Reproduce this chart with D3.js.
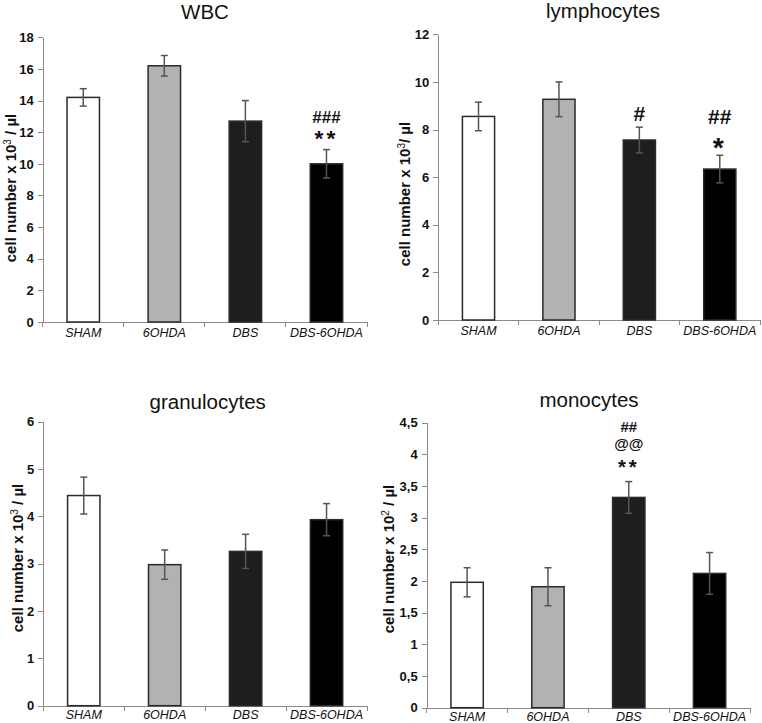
<!DOCTYPE html>
<html>
<head>
<meta charset="utf-8">
<style>
  body { margin: 0; background: #fff; }
  svg text { font-family: "Liberation Sans", Arial, sans-serif; fill: #111; }
  .axis path, .axis line { stroke: #8a8a8a; stroke-width: 1px; shape-rendering: crispEdges; }
  .axis text { font-size: 13px; font-weight: bold; }
  .xaxis text { font-size: 12.5px; font-weight: normal; font-style: italic; }
  .title { font-size: 20.5px; text-anchor: middle; }
  .ylabel { font-size: 15px; font-weight: bold; text-anchor: middle; }
  .bar { stroke: #2a2a2a; stroke-width: 1.5px; }
  .err { stroke: #555; stroke-width: 1.5px; }
  .sig { font-weight: bold; text-anchor: middle; }
</style>
</head>
<body>
<script src="https://d3js.org/d3.v7.min.js"></script>
<script>
  // groups, same in every panel
  var groups = ["SHAM", "6OHDA", "DBS", "DBS-6OHDA"];
  var groupFill = ["#ffffff", "#b2b2b2", "#1e1e1e", "#000000"];

  // WBC
  var wbcMean = [14.2, 16.2, 12.7, 10.0];
  var wbcErr  = [0.55, 0.65, 1.3, 0.9];
  var wbcTicks = [0, 2, 4, 6, 8, 10, 12, 14, 16, 18];
  var wbcSig = [[], [], [], ["**", "###"]];      // bottom to top

  // lymphocytes
  var lymMean = [8.55, 9.27, 7.56, 6.34];
  var lymErr  = [0.6, 0.73, 0.54, 0.58];
  var lymTicks = [0, 2, 4, 6, 8, 10, 12];
  var lymSig = [[], [], ["#"], ["*", "##"]];

  // granulocytes
  var graMean = [4.44, 2.98, 3.26, 3.93];
  var graErr  = [0.39, 0.31, 0.36, 0.34];
  var graTicks = [0, 1, 2, 3, 4, 5, 6];
  var graSig = [[], [], [], []];

  // monocytes
  var monMean = [1.98, 1.91, 3.32, 2.12];
  var monErr  = [0.23, 0.3, 0.25, 0.33];
  var monTicks = [0, 0.5, 1, 1.5, 2, 2.5, 3, 3.5, 4, 4.5];
  var monSig = [[], [], ["**", "@@", "##"], []];

  var commaFmt = function (d) { return String(d).replace(".", ","); };

  var svg = d3.select("body").append("svg")
      .attr("width", 762)
      .attr("height", 723);

  var panels = [
    { title: "WBC", mean: wbcMean, err: wbcErr, ticks: wbcTicks, sig: wbcSig, fmt: String,
      ylab: ["cell number x 10", "3", " / µl"],
      x0: 42.7, x1: 367, yTop: 37.3, y0: 322, tx: 205, ty: 19, lx: 11, ly: 188,
      catPad: 6, sigSize: 17, sigGap: 16, sigStep: 17 },
    { title: "lymphocytes", mean: lymMean, err: lymErr, ticks: lymTicks, sig: lymSig, fmt: String,
      ylab: ["cell number x 10", "3", "/ µl"],
      x0: 438.3, x1: 760, yTop: 34.3, y0: 320, tx: 603, ty: 18, lx: 405, ly: 194,
      catPad: 6, sigSize: 21, sigGap: 14, sigStep: 25 },
    { title: "granulocytes", mean: graMean, err: graErr, ticks: graTicks, sig: graSig, fmt: String,
      ylab: ["cell number x 10", "3", " / µl"],
      x0: 43.3, x1: 367, yTop: 421.7, y0: 705.7, tx: 207.7, ty: 409, lx: 18, ly: 558,
      catPad: 4, sigSize: 17, sigGap: 17, sigStep: 17 },
    { title: "monocytes", mean: monMean, err: monErr, ticks: monTicks, sig: monSig, fmt: commaFmt,
      ylab: ["cell number x 10", "2", " / µl"],
      x0: 426.7, x1: 750, yTop: 422.7, y0: 707.7, tx: 589, ty: 406.7, lx: 389, ly: 559,
      catPad: 4, sigSize: 15, sigGap: 19, sigStep: 18 }
  ];

  panels.forEach(drawPanel);

  function drawPanel(p) {
    var g = svg.append("g");

    var xScale = d3.scaleBand().domain(groups).range([p.x0, p.x1]);
    var yScale = d3.scaleLinear()
        .domain([0, d3.max(p.ticks)])
        .range([p.y0, p.yTop]);
    var bw = xScale.bandwidth();

    // y axis
    g.append("g")
        .attr("class", "axis")
        .attr("transform", "translate(" + p.x0 + ",0)")
        .call(d3.axisLeft(yScale).tickValues(p.ticks).tickFormat(p.fmt)
              .tickSize(5).tickSizeOuter(0).tickPadding(4));

    // x axis, labels at band centres, ticks at band edges
    var xa = g.append("g")
        .attr("class", "axis xaxis")
        .attr("transform", "translate(0," + p.y0 + ")")
        .call(d3.axisBottom(xScale).tickSize(0).tickSizeOuter(0).tickPadding(p.catPad));
    xa.selectAll(".edge")
        .data(d3.range(groups.length + 1))
      .enter().append("line")
        .attr("class", "edge")
        .attr("x1", function (i) { return p.x0 + i * bw; })
        .attr("x2", function (i) { return p.x0 + i * bw; })
        .attr("y1", 0)
        .attr("y2", 5);

    // bars
    g.selectAll(".bar")
        .data(groups)
      .enter().append("rect")
        .attr("class", "bar")
        .attr("x", function (d) { return xScale(d) + bw * 0.3; })
        .attr("width", bw * 0.4)
        .attr("y", function (d, i) { return yScale(p.mean[i]); })
        .attr("height", function (d, i) { return yScale(0) - yScale(p.mean[i]); })
        .style("fill", function (d, i) { return groupFill[i]; });

    // error bars
    var eb = g.selectAll(".eb")
        .data(groups)
      .enter().append("g")
        .attr("class", "err");
    eb.append("line")
        .attr("x1", function (d) { return xScale(d) + bw / 2; })
        .attr("x2", function (d) { return xScale(d) + bw / 2; })
        .attr("y1", function (d, i) { return yScale(p.mean[i] - p.err[i]); })
        .attr("y2", function (d, i) { return yScale(p.mean[i] + p.err[i]); });
    [-1, 1].forEach(function (s) {
      eb.append("line")
          .attr("x1", function (d) { return xScale(d) + bw / 2 - 3.5; })
          .attr("x2", function (d) { return xScale(d) + bw / 2 + 3.5; })
          .attr("y1", function (d, i) { return yScale(p.mean[i] + s * p.err[i]); })
          .attr("y2", function (d, i) { return yScale(p.mean[i] + s * p.err[i]); });
    });

    // significance marks stacked above the error bar
    groups.forEach(function (d, i) {
      var top = yScale(p.mean[i] + p.err[i]);
      p.sig[i].forEach(function (s, k) {
        var star = s.indexOf("*") >= 0;
        var size = star ? p.sigSize * 1.35 : p.sigSize;
        var adj = star ? 0.56 : (s.indexOf("@") >= 0 ? 0.27 : 0.35);
        g.append("text")
            .attr("class", "sig")
            .attr("x", xScale(d) + bw / 2)
            .attr("y", top - p.sigGap - k * p.sigStep + adj * size)
            .style("font-size", size + "px")
            .style("letter-spacing", star ? "3px" : "0px")
            .text(s);
      });
    });

    // title
    g.append("text")
        .attr("class", "title")
        .attr("x", p.tx)
        .attr("y", p.ty)
        .text(p.title);

    // y label with superscript
    var yl = g.append("text")
        .attr("class", "ylabel")
        .attr("transform", "translate(" + p.lx + "," + p.ly + ") rotate(-90)")
        .attr("dy", "0.35em");
    yl.append("tspan").text(p.ylab[0]);
    yl.append("tspan").attr("dy", -5).style("font-size", "10px").style("font-weight", "normal").text(p.ylab[1]);
    yl.append("tspan").attr("dy", 5).text(p.ylab[2]);
  }
</script>
</body>
</html>
